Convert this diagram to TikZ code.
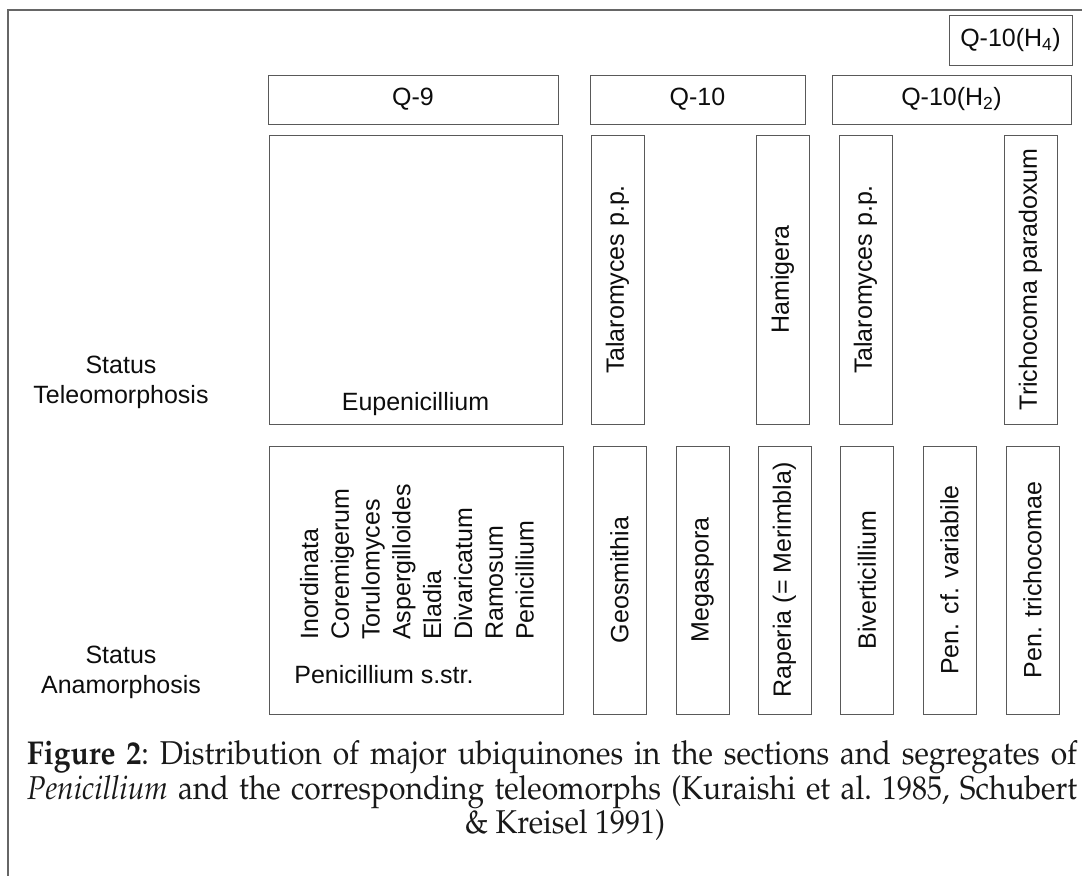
\documentclass[tikz,border=0pt]{standalone}
\usepackage[T1,TU]{fontenc}
\usepackage{fontspec}
\setmainfont{Liberation Sans}
\newcommand\capfont{\fontencoding{T1}\fontfamily{ppl}\fontsize{30}{35}\selectfont\frenchspacing}
\tikzset{
  frameline/.style={draw=black!60, line width=1.2pt},
  qbox/.style={draw=black!65, line width=0.9pt, inner sep=0pt, text=black!95,
    font=\fontsize{25}{30}\selectfont},
  vbox/.style={qbox, rotate=90, minimum height=53pt},
  lab/.style={inner sep=0pt, text=black!95, font=\fontsize{25}{30}\selectfont},
  rotlab/.style={lab, rotate=90, anchor=base west},
  captext/.style={inner sep=0pt, text=black!90, font=\capfont}
}
\begin{document}
\begin{tikzpicture}[x=1pt, y=-1pt]
\useasboundingbox (0,0) rectangle (1082,876);
% frame
\coordinate (ftr) at (1082,10);
\coordinate (ftl) at (8,10);
\coordinate (fbl) at (8,876);
\draw[frameline] (ftr) -- (ftl) -- (fbl);

% quinone headers
\node[qbox, minimum width=123pt, minimum height=50pt] (qh4) at (1010.5,40) {Q-10(H\textsubscript{4})};
\node[qbox, minimum width=290pt, minimum height=49pt] (q9) at (413,99.5) {Q-9};
\node[qbox, minimum width=215pt, minimum height=49pt] (q10) at (697.5,99.5) {Q-10};
\node[qbox, minimum width=239pt, minimum height=49pt] (qh2) at (951.5,99.5) {Q-10(H\textsubscript{2})};

% teleomorph row
\node[qbox, minimum width=293pt, minimum height=289pt] (eup) at (415.5,279.5) {};
\node[lab, anchor=base] (eupt) at (415.5,410) {Eupenicillium};
\node[vbox, minimum width=289pt] (tal1) at (617.5,279.5) {Talaromyces p.p.};
\node[vbox, minimum width=289pt] (ham) at (782.5,279.5) {Hamigera};
\node[vbox, minimum width=289pt] (tal2) at (865.5,279.5) {Talaromyces p.p.};
\node[vbox, minimum width=289pt] (tri) at (1030.5,279.5) {Trichocoma paradoxum};

% anamorph row
\node[qbox, minimum width=294pt, minimum height=268pt] (pen) at (416,580) {};
\node[rotlab] (s1) at (318,640) {Inordinata};
\node[rotlab] (s2) at (348.8,640) {Coremigerum};
\node[rotlab] (s3) at (379.6,640) {Torulomyces};
\node[rotlab] (s4) at (410.4,640) {Aspergilloides};
\node[rotlab] (s5) at (441.2,640) {Eladia};
\node[rotlab] (s6) at (472,640) {Divaricatum};
\node[rotlab] (s7) at (502.8,640) {Ramosum};
\node[rotlab] (s8) at (533.6,640) {Penicillium};
\node[lab, anchor=base] (pent) at (384,683) {Penicillium s.str.};
\node[vbox, minimum width=268pt] (geo) at (619.5,580) {Geosmithia};
\node[vbox, minimum width=268pt] (meg) at (702.5,580) {Megaspora};
\node[vbox, minimum width=268pt] (rap) at (784.5,580) {Raperia (= Merimbla)};
\node[vbox, minimum width=268pt] (biv) at (867,580) {Biverticillium};
\node[vbox, minimum width=268pt] (var) at (949.5,580) {Pen. cf. variabile};
\node[vbox, minimum width=268pt] (trc) at (1032.5,580) {Pen. trichocomae};

% row labels
\node[lab, anchor=base] (st1) at (121,373) {Status};
\node[lab, anchor=base] (st2) at (121,403) {Teleomorphosis};
\node[lab, anchor=base] (sa1) at (121,663) {Status};
\node[lab, anchor=base] (sa2) at (121,693) {Anamorphosis};

% caption
\node[captext, anchor=base west] (cap1) at (27,764) {\scalebox{1}[1.1]{\makebox[1050pt][s]{\textbf{Figure 2}: Distribution of major ubiquinones in the sections and segregates of}}};
\node[captext, anchor=base west] (cap2) at (27,799) {\scalebox{1}[1.1]{\makebox[1050pt][s]{\textit{Penicillium} and the corresponding teleomorphs (Kuraishi et al. 1985, Schubert}}};
\node[captext, anchor=base] (cap3) at (565,833) {\scalebox{1}[1.1]{\& Kreisel 1991)}};
\end{tikzpicture}
\end{document}
